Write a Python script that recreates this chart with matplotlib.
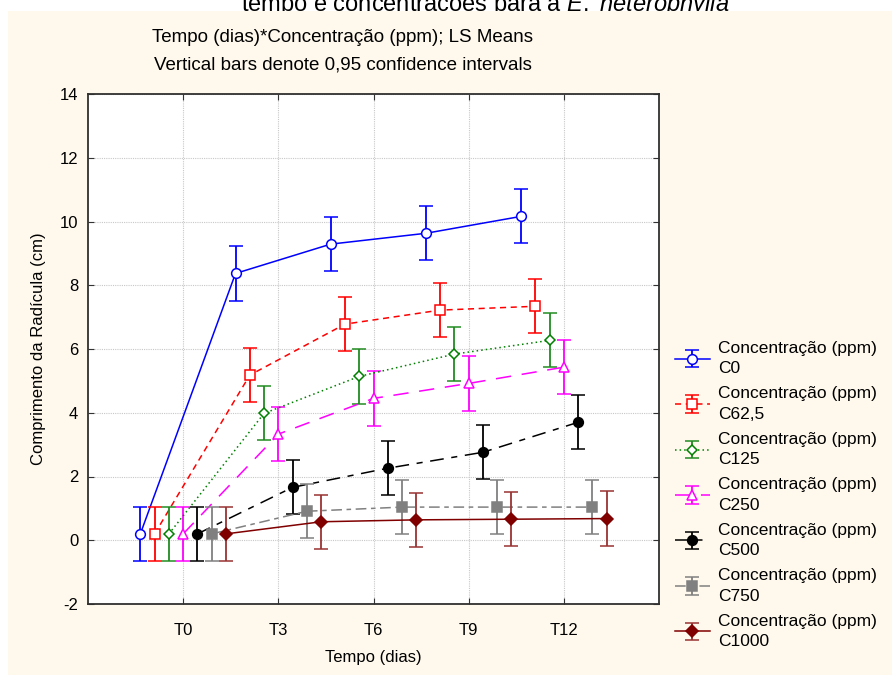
import numpy as np
import matplotlib
matplotlib.use("Agg")
import matplotlib.pyplot as plt
from matplotlib.patches import Rectangle
from matplotlib.transforms import Bbox, TransformedBbox

plt.rcParams['font.family'] = ['Liberation Sans', 'DejaVu Sans']
plt.rcParams['mathtext.fontset'] = 'custom'
plt.rcParams['mathtext.rm'] = 'Liberation Sans'
plt.rcParams['mathtext.it'] = 'Liberation Sans:italic'
plt.rcParams['axes.unicode_minus'] = False

# data: LS means and 0.95 CI half-widths
tempos = ["T0", "T3", "T6", "T9", "T12"]
series_names = ["C0", "C62,5", "C125", "C250", "C500", "C750", "C1000"]
c0 = [0.20, 8.37, 9.29, 9.63, 10.16]
c62 = [0.20, 5.18, 6.78, 7.22, 7.34]
c125 = [0.20, 3.98, 5.14, 5.84, 6.27]
c250 = [0.20, 3.33, 4.45, 4.92, 5.43]
c500 = [0.20, 1.66, 2.26, 2.76, 3.70]
c750 = [0.20, 0.91, 1.04, 1.04, 1.04]
c1000 = [0.20, 0.58, 0.64, 0.66, 0.68]
ci = [0.85, 0.85, 0.85, 0.85, 0.85, 0.85, 0.85]

means = [c0, c62, c125, c250, c500, c750, c1000]

# styles
line_cols = ["#0000FF", "#FF0000", "#008000", "#FF00FF", "#000000", "#808080", "#800000"]
err_cols = ["#0000FF", "#FF0000", "#228B22", "#FF00FF", "#000000", "#808080", "#993333"]
markers = ["o", "s", "D", "^", "o", "s", "D"]
mfaces = ["white", "white", "white", "white", "#000000", "#808080", "#800000"]
msizes = [7, 7, 5.5, 7.5, 7, 7, 6]
lstyles = ["-", (0, (4, 3)), (0, (1, 2)), (0, (10, 7)), (0, (9, 5, 4, 5)), (0, (7, 3, 3, 3)), "-"]

fig = plt.figure(figsize=(8.92, 6.75), dpi=100)
fig.patch.set_facecolor("white")

bg = Rectangle((8 / 892, 0), 1, (675 - 11) / 675, transform=fig.transFigure,
               facecolor="#FFF9ED", edgecolor="none", zorder=1)
fig.add_artist(bg)

# title, mostly hidden behind the panel like in the source image
title = fig.text(485 / 892, 1 - 11 / 675,
                 r"tempo e concentrações para a $\mathit{E.\ heterophylla}$",
                 ha="center", va="baseline", fontsize=17, color="black", zorder=0.5)
title.set_clip_box(TransformedBbox(Bbox([[0, (675 - 11) / 675], [1, 1]]), fig.transFigure))
title.set_clip_on(True)

fig.text(343 / 892, 1 - 37 / 675, "Tempo (dias)*Concentração (ppm); LS Means",
         ha="center", va="center", fontsize=13.5, zorder=3)
fig.text(343 / 892, 1 - 65 / 675, "Vertical bars denote 0,95 confidence intervals",
         ha="center", va="center", fontsize=13.5, zorder=3)

ax = fig.add_axes([88 / 892, 1 - 604 / 675, (659 - 88) / 892, (604 - 94) / 675])
ax.set_zorder(2)
ax.set_facecolor("white")

x = np.arange(1, len(tempos) + 1)
for i, name in enumerate(series_names):
    xs = x + (i - 3) * 0.15
    ax.errorbar(xs, means[i], yerr=ci[i], color=line_cols[i], ecolor=err_cols[i],
                linestyle=lstyles[i], linewidth=1.1, elinewidth=1.3, capsize=5, capthick=1.3,
                marker=markers[i], markersize=msizes[i], markerfacecolor=mfaces[i],
                markeredgecolor=line_cols[i], markeredgewidth=1.1,
                label="Concentração (ppm)\n" + name, zorder=3 + i * 0.1)

ax.set_xlim(0, 6)
ax.set_ylim(-2, 14)
ax.set_xticks(x)
ax.set_xticklabels(tempos)
ax.set_yticks(np.arange(-2, 15, 2))
ax.grid(True, color="#C8C8C8", linestyle=(0, (1, 1)), linewidth=0.8)
ax.tick_params(direction="in", length=4, top=True, right=True, labelsize=12, color="#333333")
ax.tick_params(axis="x", pad=14)
ax.tick_params(axis="y", pad=7)
for sp in ax.spines.values():
    sp.set_color("#303030")
    sp.set_linewidth(1.3)

ax.set_xlabel("Tempo (dias)", fontsize=12, labelpad=8)
ax.set_ylabel("Comprimento da Radícula (cm)", fontsize=12, labelpad=10)

h, l = ax.get_legend_handles_labels()
leg = fig.legend(h, l, loc="upper left", bbox_to_anchor=(668 / 892, 1 - 334 / 675),
                 frameon=False, fontsize=12.5, handlelength=2.0, handletextpad=0.5,
                 labelspacing=0.58, borderaxespad=0)
for t in leg.get_texts():
    t.set_linespacing(1.45)
leg.set_zorder(3)

fig.savefig("out.png", dpi=100, facecolor=fig.get_facecolor())
